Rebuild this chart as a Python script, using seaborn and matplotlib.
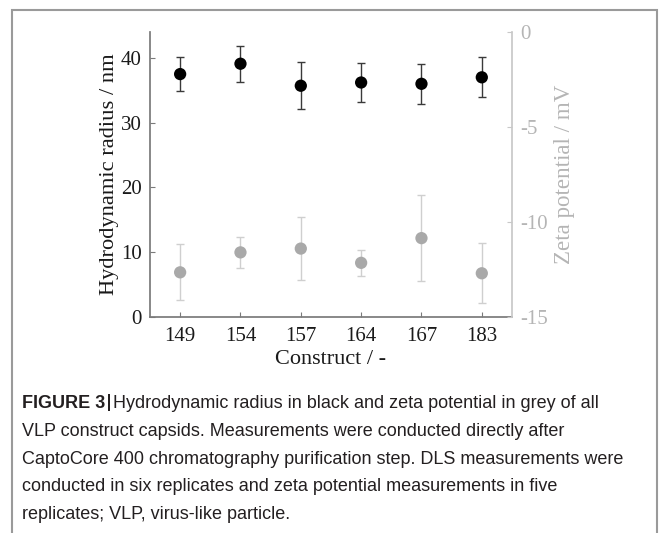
import numpy as np
import matplotlib
matplotlib.use('Agg')
import matplotlib.pyplot as plt
import seaborn as sns
from matplotlib.patches import Rectangle

# values
constructs = ['149', '154', '157', '164', '167', '183']
radius = [37.5, 39.1, 35.7, 36.2, 36.0, 37.0]
radius_err = [2.6, 2.75, 3.6, 3.05, 3.05, 3.1]
zeta = [-12.65, -11.6, -11.4, -12.15, -10.85, -12.7]
zeta_err = [1.47, 0.82, 1.65, 0.68, 2.28, 1.59]

caption_lines = [
    'VLP construct capsids. Measurements were conducted directly after',
    'CaptoCore 400 chromatography purification step. DLS measurements were',
    'conducted in six replicates and zeta potential measurements in five',
    'replicates; VLP, virus-like particle.',
]

sns.set_theme(style='white')
plt.rcParams['font.family'] = ['Liberation Serif', 'DejaVu Serif']
plt.rcParams['axes.unicode_minus'] = False

black = '#000000'
grey_dot = '#a9a9a9'
grey_err = '#cfcfcf'
grey_axis = '#c8c8c8'
grey_lab = '#b5b5b5'
ink = '#1a1a1a'

fig = plt.figure(figsize=(6.63, 5.33), dpi=100)
ax = fig.add_axes([0.2262, 0.4053, 0.5460, 0.5347])
ax2 = ax.twinx()

pos = np.arange(len(constructs))

# hydrodynamic radius (black, left axis)
ax.errorbar(pos, radius, yerr=radius_err, fmt='none', ecolor='#3a3a3a',
            elinewidth=1, capsize=2.8, capthick=1, zorder=2)
sns.scatterplot(x=pos, y=radius, ax=ax, color=black, s=78, edgecolor='none', zorder=3)

# zeta potential (grey, right axis)
ax2.errorbar(pos, zeta, yerr=zeta_err, fmt='none', ecolor=grey_err,
             elinewidth=1, capsize=2.8, capthick=1, zorder=2)
sns.scatterplot(x=pos, y=zeta, ax=ax2, color=grey_dot, s=78, edgecolor='none', zorder=3)

ax.set_xlim(-0.5, len(constructs) - 0.5)
ax.set_xticks(pos)
ax.set_xticklabels(constructs)
ax.set_ylim(0, 44)
ax.set_yticks([0, 10, 20, 30, 40])
ax2.set_ylim(-15, 0)
ax2.set_yticks([-15, -10, -5, 0])

ax.set_xlabel('Construct / -', fontsize=16, color=ink, labelpad=3)
ax.set_ylabel('Hydrodynamic radius / nm', fontsize=16.2, color=ink, labelpad=1)
ax2.set_ylabel('Zeta potential / mV', fontsize=16.6, color=grey_lab, labelpad=4)

for a in (ax, ax2):
    a.spines['top'].set_visible(False)
ax.spines['left'].set_color('#7a7a7a')
ax.spines['bottom'].set_color('#7a7a7a')
ax.spines['right'].set_visible(False)
ax2.spines['left'].set_visible(False)
ax2.spines['bottom'].set_visible(False)
ax2.spines['right'].set_color(grey_axis)

ax.tick_params(axis='both', direction='in', length=3.5, width=0.8, colors='#7a7a7a',
               labelcolor=ink, labelsize=15, pad=6, left=True, bottom=True)
ax.tick_params(axis='x', pad=7)
ax2.tick_params(axis='y', direction='in', length=3.5, width=0.8, colors=grey_axis,
                labelcolor=grey_lab, labelsize=15, pad=6, right=True)

# frame around figure panel
fig.add_artist(Rectangle((12 / 663, -0.05), 645 / 663, 1.05 - 10 / 533,
                         transform=fig.transFigure, fill=False,
                         edgecolor='#9a9a9a', linewidth=1.5))

# caption
cap_font = ['Liberation Sans Narrow', 'Liberation Sans', 'DejaVu Sans']
cap_size = 13
x0 = 22 / 663
y0 = 1 - 408 / 533
step = 27.8 / 533
fig.canvas.draw()
r = fig.canvas.get_renderer()
t1 = fig.text(x0, y0, 'FIGURE 3', family=cap_font, fontweight='bold', fontsize=cap_size,
              color='#231f20', va='baseline')
bb = t1.get_window_extent(r)
x1 = (bb.x1 + 3) / fig.bbox.width
fig.add_artist(Rectangle((x1, y0 - 2.5 / 533), 2.2 / 663, 17 / 533, transform=fig.transFigure,
                         color='#231f20', linewidth=0))
fig.text(x1 + 5 / 663, y0, 'Hydrodynamic radius in black and zeta potential in grey of all',
         family=cap_font, fontsize=cap_size, color='#231f20', va='baseline')
for i, line in enumerate(caption_lines):
    fig.text(x0, y0 - (i + 1) * step, line, family=cap_font, fontsize=cap_size,
             color='#231f20', va='baseline')

fig.savefig('out.png', dpi=100)
